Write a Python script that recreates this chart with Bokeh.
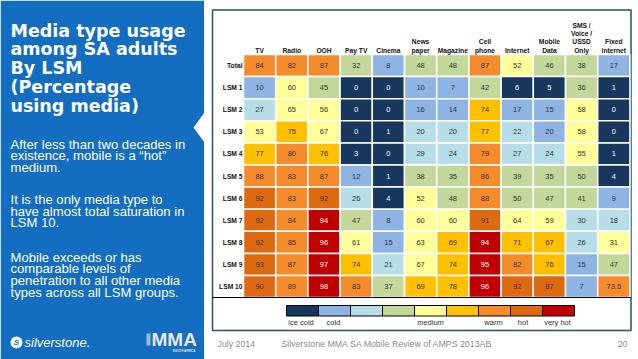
from bokeh.plotting import figure
from bokeh.models import Range1d, ColumnDataSource
from bokeh.embed import file_html
from bokeh.resources import INLINE
from bokeh.core.properties import value

# ---------------- data ----------------
columns = ["TV", "Radio", "OOH", "Pay TV", "Cinema", "News\npaper", "Magazine",
           "Cell\nphone", "Internet", "Mobile\nData", "SMS /\nVoice /\nUSSD\nOnly",
           "Fixed\ninternet"]
rows = ["Total", "LSM 1", "LSM 2", "LSM 3", "LSM 4", "LSM 5", "LSM 6",
        "LSM 7", "LSM 8", "LSM 9", "LSM 10"]

total = [84, 82, 87, 32, 8, 48, 48, 87, 52, 46, 38, 17]
lsm1 = [10, 60, 45, 0, 0, 10, 7, 42, 6, 5, 36, 1]
lsm2 = [27, 65, 56, 0, 0, 16, 14, 74, 17, 15, 58, 0]
lsm3 = [53, 75, 67, 0, 1, 20, 20, 77, 22, 20, 58, 0]
lsm4 = [77, 80, 76, 3, 0, 29, 24, 79, 27, 24, 55, 1]
lsm5 = [88, 83, 87, 12, 1, 38, 35, 86, 39, 35, 50, 4]
lsm6 = [92, 83, 92, 26, 4, 52, 48, 88, 50, 47, 41, 9]
lsm7 = [92, 84, 94, 47, 8, 60, 60, 91, 64, 59, 30, 18]
lsm8 = [92, 85, 96, 61, 15, 63, 69, 94, 71, 67, 26, 31]
lsm9 = [93, 87, 97, 74, 21, 67, 74, 95, 82, 76, 15, 47]
lsm10 = [90, 89, 98, 83, 37, 69, 78, 96, 92, 87, 7, 73.5]

# temperature level of each cell (0 = ice cold ... 8 = very hot), as coloured in the source
heat_total = [6, 6, 6, 3, 1, 3, 3, 6, 4, 3, 3, 1]
heat_lsm1 = [1, 4, 3, 0, 0, 1, 1, 3, 0, 0, 3, 0]
heat_lsm2 = [2, 4, 4, 0, 0, 1, 1, 5, 1, 1, 4, 0]
heat_lsm3 = [4, 5, 4, 0, 0, 2, 2, 5, 2, 1, 4, 0]
heat_lsm4 = [5, 6, 5, 0, 0, 2, 2, 6, 2, 2, 4, 0]
heat_lsm5 = [6, 6, 6, 1, 0, 3, 3, 6, 3, 3, 3, 0]
heat_lsm6 = [7, 6, 7, 2, 0, 4, 3, 6, 3, 3, 3, 1]
heat_lsm7 = [7, 6, 8, 3, 1, 4, 4, 7, 4, 4, 2, 2]
heat_lsm8 = [7, 6, 8, 4, 1, 4, 5, 8, 5, 5, 2, 4]
heat_lsm9 = [7, 6, 8, 5, 2, 4, 5, 8, 6, 5, 1, 3]
heat_lsm10 = [7, 6, 8, 6, 3, 5, 5, 8, 7, 7, 1, 6]

legend_labels = ["ice cold", "cold", "", "", "medium", "", "warm", "hot", "very hot"]

title_lines = ["Media type usage", "among SA adults", "By LSM", "(Percentage", "using media)"]
paragraphs = [
    ["After less than two decades in", "existence, mobile is a \u201chot\u201d", "medium."],
    ["It is the only media type to", "have almost total saturation in", "LSM 10."],
    ["Mobile exceeds or has", "comparable levels of", "penetration to all other media",
     "types across all LSM groups."],
]
footer_date = "July 2014"
footer_text = "Silverstone MMA SA Mobile Review of AMPS 2013AB"
page_number = "20"

# ---------------- styles ----------------
palette = ["#17375E", "#8DB4E2", "#B7DEE8", "#C4D79B", "#FFFF99",
           "#FFC000", "#F68B2C", "#DD6A10", "#C00000"]
text_on = ["#FFFFFF", "#333333", "#333333", "#333333", "#333333",
           "#333333", "#333333", "#333333", "#FFFFFF"]
FONT = value("Liberation Sans")
BLUE = "#136DC0"
FRAME = "#22506E"

values = [total, lsm1, lsm2, lsm3, lsm4, lsm5, lsm6, lsm7, lsm8, lsm9, lsm10]
heats = [heat_total, heat_lsm1, heat_lsm2, heat_lsm3, heat_lsm4, heat_lsm5,
         heat_lsm6, heat_lsm7, heat_lsm8, heat_lsm9, heat_lsm10]

# ---------------- figure (page coords in pixels) ----------------
W, H = 638, 359
p = figure(width=W, height=H, x_range=Range1d(0, W), y_range=Range1d(H, 0),
           output_backend="svg", toolbar_location=None, min_border=0,
           background_fill_color="white", border_fill_color="white")
p.axis.visible = False
p.grid.visible = False
p.outline_line_color = None

# grid ranges: column index / row index mapped onto the page
gx0, cw = 243.0, 32.2
gy0, rh = 54.0, 22.1
p.extra_x_ranges = {"gx": Range1d((0 - gx0) / cw, (W - gx0) / cw)}
p.extra_y_ranges = {"gy": Range1d((H - gy0) / rh, (0 - gy0) / rh)}

# ---- left blue panel ----
p.quad(left=0, right=203.5, top=0, bottom=H, fill_color=BLUE, line_color=None)
p.patch([204, 193, 204], [112, 127, 142], fill_color="white", line_color=None)

p.text(x=[10] * len(title_lines), y=[30 + 18.75 * i for i in range(len(title_lines))],
       text=title_lines, text_font=value("DejaVu Sans"), text_font_style="bold",
       text_font_size="17.5px", text_color="white", text_baseline="middle")

para_starts = [143.5, 199, 256.5]
bx, by, bt = [], [], []
for start, lines in zip(para_starts, paragraphs):
    for i, line in enumerate(lines):
        bx.append(10)
        by.append(start + 11.7 * i)
        bt.append(line)
p.text(x=bx, y=by, text=bt, text_font=FONT, text_font_size="13.1px",
       text_color="white", text_baseline="middle")

# logos (as text)
p.scatter(x=[16], y=[342], size=12, marker="circle", fill_color="white", line_color=None)
p.text(x=[16], y=[342], text=["S"], text_font=FONT, text_font_style="bold italic",
       text_font_size="8px", text_color=BLUE, text_align="center", text_baseline="middle")
p.text(x=[24], y=[342], text=["silverstone."], text_font=FONT, text_font_style="italic",
       text_font_size="13px", text_color="white", text_baseline="middle")
p.quad(left=146, right=150, top=333, bottom=345, fill_color="#9FB8D6", line_color=None)
p.text(x=[151], y=[339], text=["MMA"], text_font=FONT, text_font_style="bold",
       text_font_size="19px", text_color="#E6E9EE", text_baseline="middle")
p.text(x=[195], y=[350], text=["SOUTH AFRICA"], text_font=FONT, text_font_style="bold",
       text_font_size="3px", text_color="#E6E9EE", text_align="right", text_baseline="middle")

# ---- right frame ----
p.quad(left=212, right=630.5, top=9.5, bottom=330, fill_color="white",
       line_color=FRAME, line_width=1.5)

# ---- heatmap cells ----
cx, cy, cc, ct, ctc = [], [], [], [], []
for r, (vals, hs) in enumerate(zip(values, heats)):
    for c, (v, h) in enumerate(zip(vals, hs)):
        cx.append(c + 0.5)
        cy.append(r + 0.5)
        cc.append(palette[h])
        ct.append(str(int(v)) if float(v).is_integer() else str(v))
        ctc.append(text_on[h])
src = ColumnDataSource(dict(x=cx, y=cy, color=cc, label=ct, tcolor=ctc))
p.rect(x="x", y="y", width=1, height=1, source=src, fill_color="color",
       line_color="white", line_width=1.5, x_range_name="gx", y_range_name="gy")
p.text(x="x", y="y", text="label", source=src, text_color="tcolor", text_font=FONT,
       text_font_size="7.5px", text_align="center", text_baseline="middle",
       x_range_name="gx", y_range_name="gy")

# bottom rule of the table
p.segment(x0=[212], x1=[630.5], y0=[297], y1=[297], line_color="black", line_width=1.2)

# ---- column headers ----
hx, hy, ht = [], [], []
for c, name in enumerate(columns):
    parts = name.split("\n")
    for k, part in enumerate(reversed(parts)):
        hx.append(c + 0.5)
        hy.append(49.5 - 8.3 * k)
        ht.append(part)
p.text(x=hx, y=hy, text=ht, text_font=FONT, text_font_style="bold",
       text_font_size="6.7px", text_color="#111111", text_align="center",
       text_baseline="middle", x_range_name="gx")

# ---- row labels ----
p.text(x=[242] * len(rows), y=[r + 0.5 for r in range(len(rows))], text=rows,
       text_font=FONT, text_font_style="bold", text_font_size="6.7px",
       text_color="#111111", text_align="right", text_baseline="middle",
       y_range_name="gy")

# ---- legend ----
lx0, lw = 286.0, 32.0
p.quad(left=[lx0 + lw * i for i in range(len(palette))],
       right=[lx0 + lw * (i + 1) for i in range(len(palette))],
       top=305, bottom=315.5, fill_color=palette, line_color="black", line_width=1)
lab_x = [300.5, 333, 0, 0, 430, 0, 493, 522.5, 557]
p.text(x=[x for x, t in zip(lab_x, legend_labels) if t],
       y=[321.5] * sum(1 for t in legend_labels if t),
       text=[t for t in legend_labels if t], text_font=FONT, text_font_size="7.5px",
       text_color="#333333", text_align="center", text_baseline="middle")

# ---- footer ----
p.text(x=[217], y=[343], text=[footer_date], text_font=FONT, text_font_size="8.8px",
       text_color="#8C8C8C", text_baseline="middle")
p.text(x=[281], y=[343], text=[footer_text], text_font=FONT, text_font_size="8.8px",
       text_color="#8C8C8C", text_baseline="middle")
p.text(x=[627], y=[343], text=[page_number], text_font=FONT, text_font_size="8.8px",
       text_color="#8C8C8C", text_align="right", text_baseline="middle")

open("out.html", "w").write(file_html(p, INLINE))
